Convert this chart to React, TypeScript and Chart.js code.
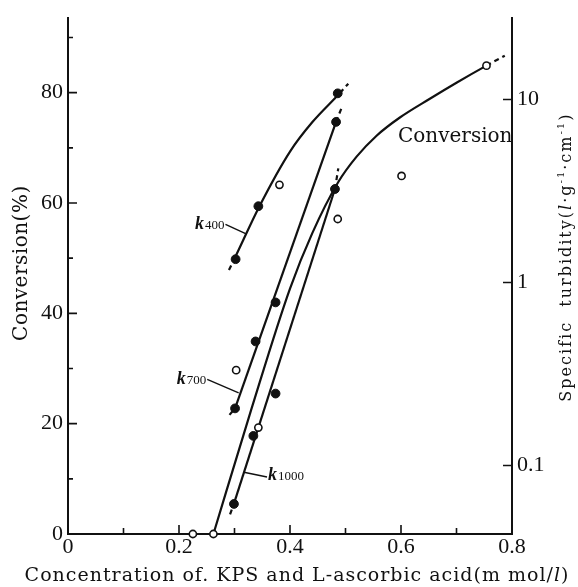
import React, { useEffect, useRef } from "react";
import { Chart, registerables } from "chart.js";

Chart.register(...registerables);

// Conversion (%) — open circles, left axis
const convX = [0.225, 0.262, 0.303, 0.343, 0.381, 0.486, 0.601, 0.754];
const convY = [0, 0, 29.7, 19.3, 63.3, 57.1, 64.9, 84.9];

// Specific turbidity (l·g⁻¹·cm⁻¹) — filled circles, right log axis
const k400X = [0.302, 0.343, 0.486];
const k400Y = [1.34, 2.61, 10.8];
const k700X = [0.301, 0.338, 0.374, 0.483];
const k700Y = [0.205, 0.476, 0.778, 7.54];
const k1000X = [0.299, 0.334, 0.374, 0.481];
const k1000Y = [0.0616, 0.145, 0.247, 3.24];

// Drawn trend curves (end pieces are dashed extensions)
const convFitX = [0.262, 0.33, 0.4, 0.44, 0.487, 0.52, 0.556, 0.598, 0.652, 0.7, 0.754, 0.787];
const convFitY = [0, 22.5, 44.5, 54.5, 63.8, 68.4, 72.2, 75.5, 78.9, 81.8, 84.9, 86.7];
const k400FitX = [0.29, 0.3, 0.345, 0.4, 0.44, 0.49, 0.505];
const k400FitY = [1.17, 1.35, 2.61, 5.19, 7.5, 10.84, 12.2];
const k700FitX = [0.291, 0.301, 0.483, 0.493];
const k700FitY = [0.189, 0.205, 7.54, 9.0];
const k1000FitX = [0.292, 0.299, 0.481, 0.487];
const k1000FitY = [0.054, 0.0618, 3.24, 4.2];

// Axes
const X_MIN = 0;
const X_MAX = 0.8;
const LEFT_MIN = 0;
const LEFT_MAX = 93.5;
const RIGHT_MIN = 0.0422;
const RIGHT_MAX = 27.8;
const xTicks = [0, 0.2, 0.4, 0.6, 0.8];
const xTickLabels = ["0", "0.2", "0.4", "0.6", "0.8"];
const xMinorTicks = [0.1, 0.3, 0.5, 0.7];
const leftTicks = [0, 20, 40, 60, 80];
const leftTickLabels = ["0", "20", "40", "60", "80"];
const leftMinorTicks = [10, 30, 50, 70, 90];
const rightTicks = [0.1, 1, 10];
const rightTickLabels = ["0.1", "1", "10"];

// Curve labels: position in (x, conversion %) and where the leader meets the curve
const curveLabels = [
  { sub: "400", x: 0.2288, y: 55.3, toX: 0.321, toY: 54.4, side: "right" },
  { sub: "700", x: 0.1959, y: 27.2, toX: 0.3075, toY: 25.6, side: "right" },
  { sub: "1000", x: 0.3604, y: 9.7, toX: 0.317, toY: 11.2, side: "left" },
];
const conversionLabel = { text: "Conversion", x: 0.5946, y: 71.0 };

const INK = "#111111";
const SERIF = "'DejaVu Serif', serif";
const NUM_SERIF = "'Liberation Serif', serif";

const toPts = (xs: number[], ys: number[]) => xs.map((x, i) => ({ x, y: ys[i] }));

function fitLine(xs: number[], ys: number[], axis: string, curved: boolean, dashStart: boolean) {
  const n = xs.length;
  return {
    data: toPts(xs, ys),
    yAxisID: axis,
    showLine: true,
    borderColor: INK,
    borderWidth: 2.2,
    pointRadius: 0,
    fill: false,
    clip: false,
    order: 2,
    tension: 0,
    cubicInterpolationMode: curved ? "monotone" : "default",
    segment: {
      borderDash: (c: any) =>
        (dashStart && c.p0DataIndex === 0) || c.p1DataIndex === n - 1 ? [5, 4] : undefined,
    },
  };
}

function points(xs: number[], ys: number[], axis: string, filled: boolean) {
  return {
    data: toPts(xs, ys),
    yAxisID: axis,
    showLine: false,
    pointStyle: "circle",
    pointRadius: filled ? 4.4 : 3.6,
    pointBorderWidth: filled ? 1 : 1.6,
    pointBorderColor: INK,
    pointBackgroundColor: filled ? INK : "#ffffff",
    clip: false,
    order: 1,
  };
}

function drawPieces(
  ctx: CanvasRenderingContext2D,
  pieces: { t: string; f: string; dy?: number }[],
  cx: number,
  baseline: number,
  spacing: string
) {
  ctx.letterSpacing = spacing;
  let total = 0;
  for (const p of pieces) {
    ctx.font = p.f;
    total += ctx.measureText(p.t).width;
  }
  let x = cx - total / 2;
  ctx.textAlign = "left";
  ctx.textBaseline = "alphabetic";
  for (const p of pieces) {
    ctx.font = p.f;
    ctx.fillText(p.t, x, baseline + (p.dy || 0));
    x += ctx.measureText(p.t).width;
  }
  ctx.letterSpacing = "0px";
}

const overlay = {
  id: "overlay",
  afterDraw(chart: any) {
    const { ctx, chartArea } = chart;
    const xs = chart.scales.x;
    const yl = chart.scales.y;
    const yr = chart.scales.y2;
    ctx.save();
    ctx.strokeStyle = INK;
    ctx.fillStyle = INK;
    ctx.lineCap = "butt";

    // inward tick marks
    ctx.lineWidth = 1.6;
    ctx.beginPath();
    for (const v of leftTicks) {
      const y = yl.getPixelForValue(v);
      ctx.moveTo(chartArea.left, y);
      ctx.lineTo(chartArea.left + 9, y);
    }
    for (const v of leftMinorTicks) {
      const y = yl.getPixelForValue(v);
      ctx.moveTo(chartArea.left, y);
      ctx.lineTo(chartArea.left + 5, y);
    }
    for (const v of rightTicks) {
      const y = yr.getPixelForValue(v);
      ctx.moveTo(chartArea.right, y);
      ctx.lineTo(chartArea.right - 9, y);
    }
    for (const v of xTicks) {
      const x = xs.getPixelForValue(v);
      ctx.moveTo(x, chartArea.bottom);
      ctx.lineTo(x, chartArea.bottom - 9);
    }
    for (const v of xMinorTicks) {
      const x = xs.getPixelForValue(v);
      ctx.moveTo(x, chartArea.bottom);
      ctx.lineTo(x, chartArea.bottom - 6);
    }
    ctx.stroke();

    // curve labels k400 / k700 / k1000 with leaders
    ctx.textBaseline = "alphabetic";
    ctx.textAlign = "left";
    ctx.lineWidth = 1.4;
    for (const lab of curveLabels) {
      const px = xs.getPixelForValue(lab.x);
      const py = yl.getPixelForValue(lab.y);
      ctx.font = `bold italic 18px ${NUM_SERIF}`;
      ctx.fillText("k", px, py);
      const kw = ctx.measureText("k").width;
      ctx.font = `13px ${NUM_SERIF}`;
      ctx.fillText(lab.sub, px + kw + 1, py);
      const sw = ctx.measureText(lab.sub).width;
      const tx = xs.getPixelForValue(lab.toX);
      const ty = yl.getPixelForValue(lab.toY);
      ctx.beginPath();
      if (lab.side === "right") ctx.moveTo(px + kw + 1 + sw + 1, py - 4.5);
      else ctx.moveTo(px - 1, py - 3.5);
      ctx.lineTo(tx, ty);
      ctx.stroke();
    }

    // "Conversion" curve label
    ctx.font = `20px ${SERIF}`;
    ctx.fillText(
      conversionLabel.text,
      xs.getPixelForValue(conversionLabel.x),
      yl.getPixelForValue(conversionLabel.y)
    );

    // x axis title
    const midX = (chartArea.left + chartArea.right) / 2;
    drawPieces(
      ctx,
      [
        { t: "Concentration of. KPS and L-ascorbic acid(m mol/", f: `19px ${SERIF}` },
        { t: "l", f: `italic 19px ${SERIF}` },
        { t: ")", f: `19px ${SERIF}` },
      ],
      midX + 7,
      chartArea.bottom + 47,
      "1px"
    );

    // left axis title
    ctx.save();
    ctx.translate(chartArea.left - 41, (chartArea.top + chartArea.bottom) / 2 - 13);
    ctx.rotate(-Math.PI / 2);
    drawPieces(ctx, [{ t: "Conversion(%)", f: `20px ${SERIF}` }], 0, 0, "0.5px");
    ctx.restore();

    // right axis title
    ctx.save();
    ctx.translate(chartArea.right + 59, (chartArea.top + chartArea.bottom) / 2 - 19);
    ctx.rotate(-Math.PI / 2);
    drawPieces(
      ctx,
      [
        { t: "Specific  turbidity(", f: `16px ${SERIF}` },
        { t: "l", f: `italic 16px ${SERIF}` },
        { t: "·g", f: `16px ${SERIF}` },
        { t: "-1", f: `10px ${SERIF}`, dy: -7 },
        { t: "·cm", f: `16px ${SERIF}` },
        { t: "-1", f: `10px ${SERIF}`, dy: -7 },
        { t: ")", f: `16px ${SERIF}` },
      ],
      0,
      0,
      "2px"
    );
    ctx.restore();

    ctx.restore();
  },
};

export default function App() {
  const canvasRef = useRef<HTMLCanvasElement | null>(null);

  useEffect(() => {
    if (!canvasRef.current) return;
    const tickFont = { family: NUM_SERIF, size: 22 };
    const chart = new Chart(canvasRef.current, {
      type: "scatter",
      data: {
        datasets: [
          points(convX, convY, "y", false),
          points(k400X, k400Y, "y2", true),
          points(k700X, k700Y, "y2", true),
          points(k1000X, k1000Y, "y2", true),
          fitLine(convFitX, convFitY, "y", true, false),
          fitLine(k400FitX, k400FitY, "y2", true, true),
          fitLine(k700FitX, k700FitY, "y2", false, true),
          fitLine(k1000FitX, k1000FitY, "y2", false, true),
        ] as any,
      },
      options: {
        responsive: false,
        maintainAspectRatio: false,
        animation: false,
        devicePixelRatio: 1,
        events: [],
        layout: { padding: { top: 15, left: 0, right: 0, bottom: 0 } },
        plugins: { legend: { display: false }, tooltip: { enabled: false } },
        scales: {
          x: {
            type: "linear",
            min: X_MIN,
            max: X_MAX,
            grid: { display: false, drawTicks: false },
            border: { display: true, color: INK, width: 2 },
            ticks: {
              padding: 0,
              font: tickFont,
              color: INK,
              maxRotation: 0,
              autoSkip: false,
              callback: (_v: any, i: number) => xTickLabels[i],
            },
            afterBuildTicks: (s: any) => {
              s.ticks = xTicks.map((value) => ({ value }));
            },
            afterFit: (s: any) => {
              s.height = 53;
            },
          },
          y: {
            type: "linear",
            position: "left",
            min: LEFT_MIN,
            max: LEFT_MAX,
            grid: { display: false, drawTicks: false },
            border: { display: true, color: INK, width: 2 },
            ticks: {
              padding: 5,
              font: tickFont,
              color: INK,
              autoSkip: false,
              callback: (_v: any, i: number) => leftTickLabels[i],
            },
            afterBuildTicks: (s: any) => {
              s.ticks = leftTicks.map((value) => ({ value }));
            },
            afterFit: (s: any) => {
              s.width = 68;
            },
          },
          y2: {
            type: "logarithmic",
            position: "right",
            min: RIGHT_MIN,
            max: RIGHT_MAX,
            grid: { display: false, drawTicks: false },
            border: { display: true, color: INK, width: 2 },
            ticks: {
              padding: 5,
              font: tickFont,
              color: INK,
              autoSkip: false,
              callback: (_v: any, i: number) => rightTickLabels[i],
            },
            afterBuildTicks: (s: any) => {
              s.ticks = rightTicks.map((value) => ({ value }));
            },
            afterFit: (s: any) => {
              s.width = 66;
            },
          },
        },
      } as any,
      plugins: [overlay],
    });
    return () => chart.destroy();
  }, []);

  return (
    <div style={{ position: "absolute", left: 0, top: 0, width: 578, height: 587, background: "#fff" }}>
      <canvas ref={canvasRef} width={578} height={587} style={{ display: "block" }} />
    </div>
  );
}
